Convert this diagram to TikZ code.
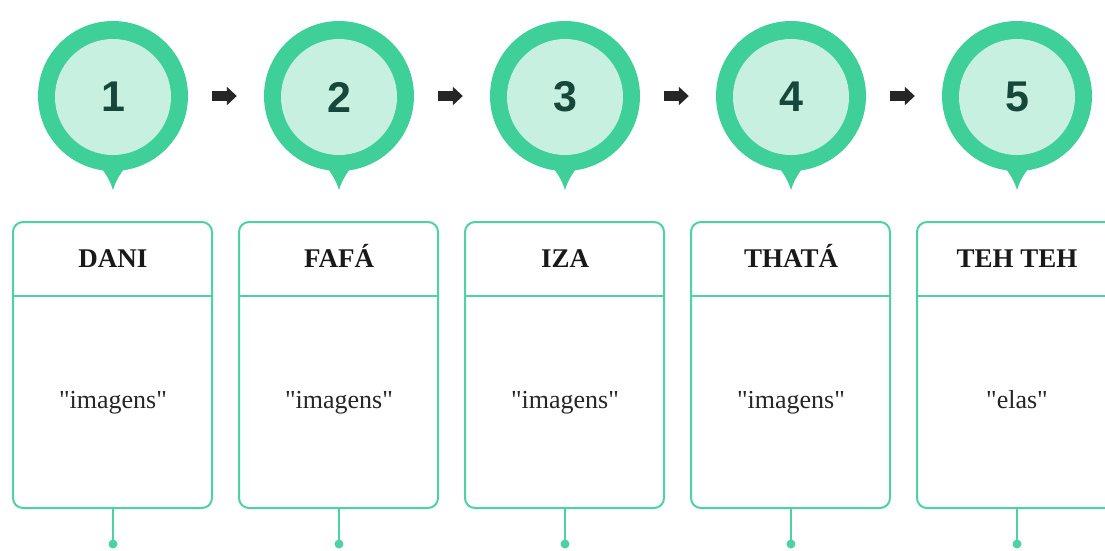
\documentclass[tikz,border=0pt]{standalone}
\usepackage{fontspec}
\defaultfontfeatures[\rmfamily]{}
\setmainfont{Liberation Serif}
\newfontfamily\bodyfont{Liberation Serif}
\newfontfamily\numfont{Liberation Sans}
\usetikzlibrary{arrows.meta}
\definecolor{ringgreen}{HTML}{3FCF99}
\definecolor{mint}{HTML}{C8F0E1}
\definecolor{deepgreen}{HTML}{17473A}
\definecolor{linegreen}{HTML}{4FD2A3}
\newcommand{\dq}{\char34\relax}
\tikzset{
  x=1pt, y=-1pt,
  ring/.style={circle, fill=ringgreen, minimum size=150pt, inner sep=0pt},
  core/.style={circle, fill=mint, minimum size=116pt, inner sep=0pt,
    font=\numfont\bfseries\fontsize{43}{43}\selectfont, text=deepgreen},
  card/.style={draw=linegreen, line width=2pt, rounded corners=10pt,
    minimum width=199pt, minimum height=286pt, inner sep=0pt},
  cardtitle/.style={anchor=base, font=\bfseries\fontsize{27}{27}\selectfont, text=black!90},
  cardbody/.style={anchor=base, font=\bodyfont\fontsize{26}{26}\selectfont, text=black!85},
  flow/.style={-{Triangle[length=10pt,width=18pt]}, line width=10pt, black!85},
  stem/.style={linegreen, line width=2pt},
  knob/.style={fill=linegreen},
}
\begin{document}
\begin{tikzpicture}
\useasboundingbox (0,0) rectangle (1105,550);
\clip (0,0) rectangle (1105,550);
\fill[white] (0,0) rectangle (1105,550);
\foreach \i/\name/\body in {1/DANI/imagens,2/FAFÁ/imagens,3/IZA/imagens,4/THATÁ/imagens,5/TEH TEH/elas}{
  \pgfmathsetmacro{\cx}{113+226*(\i-1)}
  % marker pin: pointer below the ring
  \fill[ringgreen] (\cx-18,160) .. controls (\cx-8,172) and (\cx-3,180) .. (\cx,190)
    .. controls (\cx+3,180) and (\cx+8,172) .. (\cx+18,160) -- cycle;
  \node[ring] (r\i) at (\cx,96) {};
  \node[core] (c\i) at (\cx,97) {\i};
  % card with title and body
  \node[card] (b\i) at (\cx-0.5,365) {};
  \draw[stem] (b\i.west |- 0,296) -- (b\i.east |- 0,296);
  \node[cardtitle] (t\i) at (\cx,267) {\name};
  \node[cardbody] (p\i) at (\cx,408) {\dq\body\dq};
  \coordinate (d\i) at (\cx,544);
  \draw[stem] (b\i.south -| d\i) -- (d\i);
  \fill[knob] (d\i) circle (4.5pt);
}
\foreach \a/\b in {1/2,2/3,3/4,4/5}{
  \draw[flow, shorten <=24pt, shorten >=27pt] (r\a.east) -- (r\b.west);
}
\end{tikzpicture}
\end{document}
